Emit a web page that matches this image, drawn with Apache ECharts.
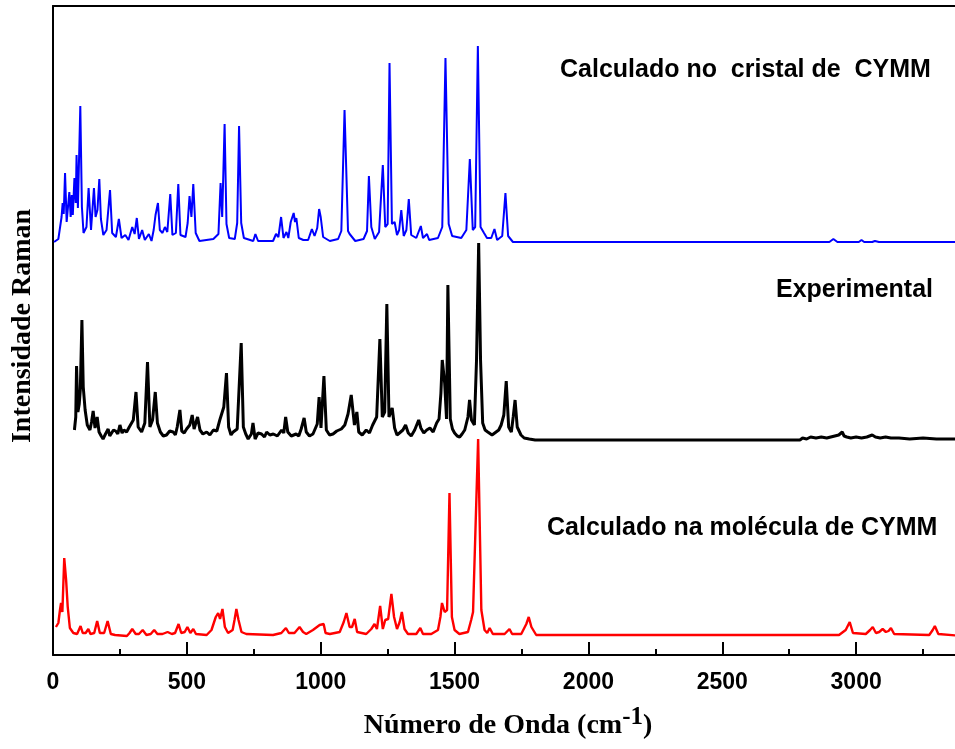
<!DOCTYPE html>
<html>
<head>
<meta charset="utf-8">
<title>Espectro Raman CYMM</title>
<script src="https://cdn.jsdelivr.net/npm/echarts@6/dist/echarts.min.js"></script>
<style>
  html, body { margin: 0; padding: 0; background: #fff; overflow: hidden; }
  #chart { width: 955px; height: 749px; }
</style>
</head>
<body>
<div id="chart"></div>
<script>
// Raman spectra: [wavenumber (cm-1), relative intensity above each trace's baseline]
const crystalCalc = [
  [4,0],[20,3],[32,25],[36,39],[40,28],[45,69],[51,20],[61,50],[66,25],[70,47],[74,27],[80,64],[85,39],[88,87],
  [93,34],[102,136],[108,35],[114,9],[125,15],[133,54],[142,12],[153,54],[159,25],[166,32],[173,63],[179,23],
  [188,7],[200,12],[213,52],[221,9],[235,5],[246,23],[256,4],[270,7],[282,2],[296,15],[305,8],[313,24],[321,3],
  [333,12],[343,2],[358,8],[368,1],[376,12],[383,27],[392,39],[399,12],[409,9],[418,15],[427,10],[438,48],
  [446,7],[459,9],[468,58],[476,7],[495,5],[503,19],[510,46],[517,25],[524,58],[533,9],[547,1],[599,3],[618,8],
  [626,59],[632,25],[641,118],[648,18],[658,4],[679,3],[688,19],[695,116],[703,19],[713,4],[748,1],[756,8],
  [766,1],[822,1],[833,8],[842,5],[852,25],[861,4],[872,10],[879,4],[888,20],[899,29],[904,20],[909,24],
  [918,4],[935,2],[953,2],[967,13],[977,6],[987,14],[994,33],[1000,25],[1009,5],[1034,1],[1065,3],[1077,11],
  [1089,132],[1102,11],[1108,8],[1114,10],[1129,1],[1160,3],[1173,11],[1180,66],[1189,15],[1202,3],[1218,10],
  [1232,77],[1241,15],[1250,18],[1257,179],[1266,18],[1276,20],[1285,7],[1293,12],[1301,32],[1310,6],[1320,12],
  [1329,43],[1338,7],[1357,4],[1374,16],[1382,4],[1389,3],[1397,8],[1405,2],[1438,4],[1454,15],[1466,184],
  [1478,18],[1491,6],[1525,4],[1544,12],[1557,83],[1568,12],[1577,15],[1587,196],[1597,15],[1610,9],[1621,4],
  [1637,4],[1649,13],[1659,2],[1678,6],[1690,49],[1700,6],[1718,0],[2900,0],[2915,3],[2930,0],[3010,0],
  [3020,2],[3030,0],[3060,0],[3070,1],[3085,0],[3400,0]
];

const experimental = [
  [80,9],[85,22],[88,73],[93,27],[98,35],[102,49],[108,119],[113,52],[120,29],[128,14],[138,9],[144,17],[150,28],
  [157,11],[165,22],[172,7],[180,3],[187,0],[196,5],[206,10],[212,3],[218,4],[226,9],[234,8],[242,5],[250,14],
  [258,6],[265,9],[275,7],[285,12],[300,19],[310,47],[318,12],[331,7],[343,16],[353,77],[362,12],[372,19],
  [382,47],[390,16],[401,7],[412,3],[424,4],[436,8],[449,7],[457,4],[464,12],[474,29],[481,8],[490,6],[499,10],
  [511,14],[520,24],[527,10],[540,22],[549,9],[560,5],[574,7],[586,4],[599,9],[612,8],[623,19],[638,32],
  [648,66],[656,12],[665,4],[673,7],[688,10],[703,96],[711,12],[720,5],[729,0],[741,5],[747,16],[755,0],
  [766,6],[779,5],[790,2],[798,7],[810,4],[823,5],[838,3],[854,9],[862,6],[869,22],[877,7],[890,3],[908,5],
  [918,3],[927,10],[938,21],[946,7],[958,3],[971,5],[987,15],[994,42],[1001,11],[1012,63],[1021,9],[1033,4],
  [1046,5],[1060,8],[1077,10],[1090,14],[1102,25],[1114,44],[1126,14],[1135,27],[1142,7],[1155,4],[1170,9],
  [1182,6],[1194,14],[1209,22],[1221,100],[1230,22],[1239,27],[1247,135],[1255,22],[1267,31],[1276,11],
  [1285,4],[1294,6],[1307,9],[1317,14],[1327,6],[1338,3],[1351,9],[1366,19],[1374,11],[1385,6],[1396,9],
  [1408,11],[1420,7],[1433,16],[1442,20],[1449,46],[1454,79],[1463,56],[1470,20],[1475,154],[1484,20],
  [1492,10],[1500,6],[1510,3],[1519,2],[1528,5],[1538,9],[1550,22],[1556,39],[1563,19],[1574,14],[1582,79],
  [1590,196],[1597,79],[1605,16],[1614,9],[1624,7],[1640,4],[1655,7],[1665,9],[1674,14],[1684,24],[1693,58],
  [1702,12],[1712,7],[1719,22],[1726,39],[1734,12],[1748,4],[1760,1],[1779,0],[1801,-1],[2790,-1],[2800,1],
  [2815,0],[2830,2],[2850,1],[2870,2],[2890,1],[2905,2],[2920,3],[2935,4],[2948,7],[2955,3],[2965,2],
  [2980,1],[3000,2],[3020,1],[3040,2],[3060,4],[3072,2],[3090,1],[3110,2],[3130,1],[3160,1],[3200,0],
  [3250,1],[3300,0],[3400,0]
];

const moleculeCalc = [
  [11,9],[20,13],[26,26],[30,33],[35,24],[42,78],[49,56],[55,29],[63,8],[76,3],[90,2],[96,4],[103,10],[111,3],
  [122,3],[132,7],[140,2],[154,3],[165,15],[175,3],[191,3],[204,15],[216,2],[232,1],[276,0],[286,3],[296,7],
  [309,2],[321,2],[335,6],[349,1],[365,2],[378,6],[390,2],[409,2],[428,4],[444,2],[456,3],[469,12],[479,3],
  [492,4],[502,9],[513,3],[524,7],[534,2],[574,1],[592,6],[608,19],[617,23],[624,17],[633,27],[642,9],
  [654,3],[671,6],[678,16],[685,27],[693,16],[704,4],[722,2],[822,1],[853,3],[870,8],[881,3],[902,3],[921,9],
  [934,4],[946,2],[971,6],[996,11],[1011,12],[1018,3],[1034,2],[1071,4],[1086,14],[1096,23],[1108,9],
  [1117,9],[1127,17],[1136,4],[1139,3],[1170,2],[1189,7],[1201,12],[1210,7],[1222,30],[1232,7],[1241,16],
  [1252,17],[1264,42],[1274,19],[1285,7],[1295,14],[1303,24],[1313,7],[1326,2],[1357,2],[1372,8],[1382,2],
  [1413,2],[1438,6],[1447,19],[1453,33],[1463,24],[1472,26],[1481,143],[1490,19],[1500,6],[1518,2],[1550,4],
  [1562,16],[1569,24],[1576,23],[1588,197],[1600,26],[1612,6],[1622,3],[1631,8],[1643,2],[1687,2],[1705,7],
  [1715,2],[1749,2],[1768,12],[1777,19],[1787,9],[1805,1],[2936,1],[2961,6],[2976,14],[2988,3],[3036,2],
  [3052,6],[3062,9],[3074,3],[3086,4],[3099,7],[3111,4],[3121,5],[3130,8],[3142,2],[3273,1],[3286,6],
  [3294,10],[3307,2],[3400,0]
];

// vertical offsets that stack the three traces
const offsetCrystal = 413;
const offsetExperimental = 216;
const offsetMolecule = 19;

const xTicks = [0, 500, 1000, 1500, 2000, 2500, 3000];

const shift = (arr, off) => arr.map(p => [p[0], p[1] + off]);

const chart = echarts.init(document.getElementById('chart'), null, { renderer: 'canvas' });

const labelFont = "'Liberation Sans', Arial, sans-serif";
const serifFont = "'Liberation Serif', 'Times New Roman', serif";

chart.setOption({
  animation: false,
  backgroundColor: '#fff',
  // the frame runs past the right edge of the page; only 0..~3370 cm-1 is visible
  grid: { left: 53, top: 6, width: 937, height: 649, containLabel: false, outerBoundsMode: 'none' },
  xAxis: [{
    type: 'value',
    min: 0,
    max: 3500,
    interval: 500,
    position: 'bottom',
    axisLine: { show: true, onZero: false, lineStyle: { color: '#000', width: 2 } },
    axisTick: { show: true, inside: true, length: 13, lineStyle: { color: '#000', width: 2 } },
    minorTick: { show: true, splitNumber: 2, length: 6, lineStyle: { color: '#000', width: 2 } },
    splitLine: { show: false },
    axisLabel: {
      margin: 16,
      color: '#000',
      fontFamily: labelFont,
      fontWeight: 'bold',
      fontSize: 23,
      formatter: v => (xTicks.indexOf(v) >= 0 ? String(v) : '')
    }
  }, {
    type: 'value',
    min: 0,
    max: 3500,
    position: 'top',
    axisLine: { show: true, onZero: false, lineStyle: { color: '#000', width: 2 } },
    axisTick: { show: false },
    axisLabel: { show: false },
    splitLine: { show: false }
  }],
  yAxis: {
    type: 'value',
    min: 0,
    max: 649,
    axisLine: { show: true, onZero: false, lineStyle: { color: '#000', width: 2 } },
    axisTick: { show: false },
    axisLabel: { show: false },
    splitLine: { show: false }
  },
  series: [
    {
      name: 'Calculado no cristal de CYMM',
      type: 'line',
      data: shift(crystalCalc, offsetCrystal),
      showSymbol: false,
      lineStyle: { color: '#0000ff', width: 2 },
      z: 3
    },
    {
      name: 'Experimental',
      type: 'line',
      data: shift(experimental, offsetExperimental),
      showSymbol: false,
      lineStyle: { color: '#000000', width: 3 },
      z: 3
    },
    {
      name: 'Calculado na molécula de CYMM',
      type: 'line',
      data: shift(moleculeCalc, offsetMolecule),
      showSymbol: false,
      lineStyle: { color: '#ff0000', width: 2.4 },
      z: 3
    }
  ],
  graphic: [
    {
      type: 'text', left: 560, top: 58,
      style: { text: 'Calculado no  cristal de  CYMM', font: "bold 25px " + labelFont, fill: '#000' }
    },
    {
      type: 'text', left: 776, top: 278,
      style: { text: 'Experimental', font: "bold 25px " + labelFont, fill: '#000' }
    },
    {
      type: 'text', left: 547, top: 516,
      style: { text: 'Calculado na molécula de CYMM', font: "bold 25px " + labelFont, fill: '#000' }
    },
    {
      type: 'text', x: 23, y: 326, rotation: Math.PI / 2,
      style: {
        text: 'Intensidade Raman', font: "bold 28px " + serifFont, fill: '#000',
        align: 'center', verticalAlign: 'middle'
      }
    },
    {
      type: 'text', x: 508, y: 726,
      style: {
        text: 'Número de Onda (cm{sup|-1})',
        font: "bold 28px " + serifFont, fill: '#000',
        align: 'center', verticalAlign: 'middle',
        rich: {
          sup: { font: "bold 25px " + serifFont, fill: '#000', padding: [0, 0, 16, 0] }
        }
      }
    }
  ]
});
</script>
</body>
</html>
